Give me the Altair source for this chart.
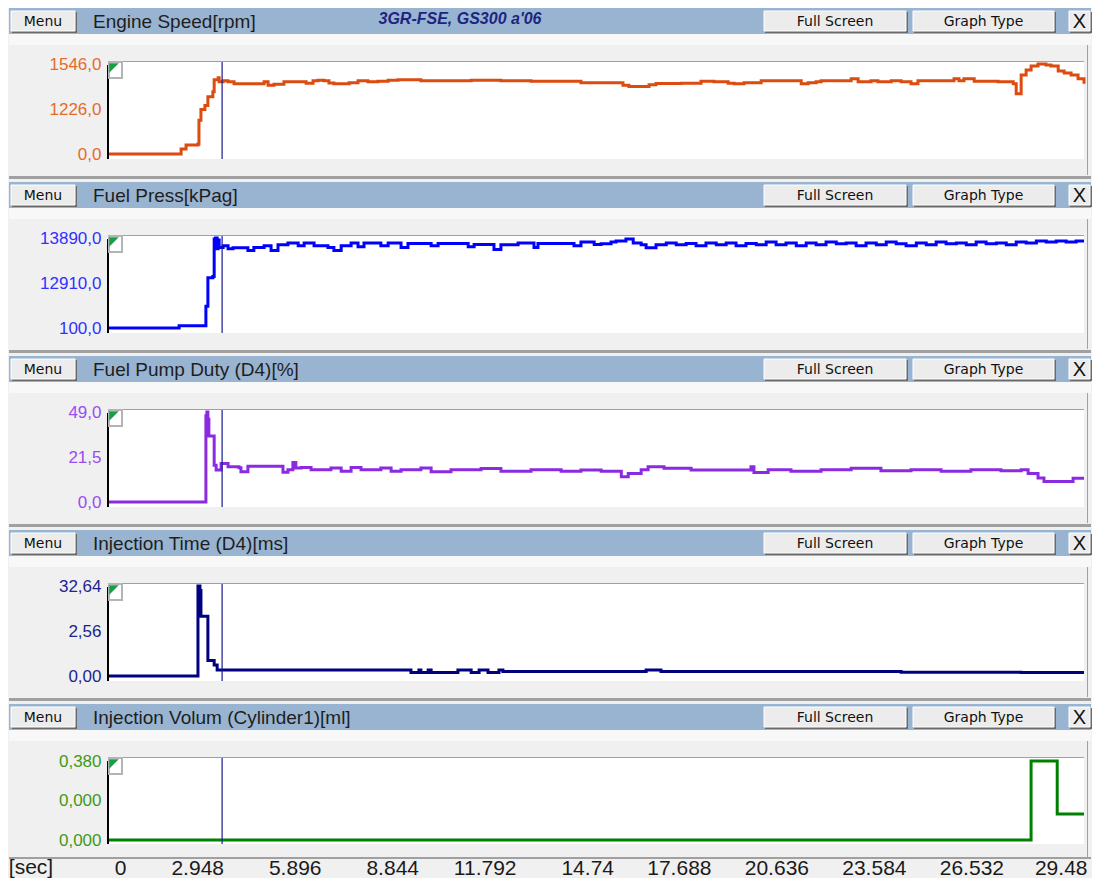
import pandas as pd
import altair as alt

# Time axis of the recording [sec]
x_ticks = [0, 2.948, 5.896, 8.844, 11.792, 14.74, 17.688, 20.636, 23.584, 26.532, 29.48]
t_end = 29.48
cursor_t = 3.42

# Engine Speed [rpm]
rpm_t = [0, 2.18, 2.33, 2.69, 2.72, 2.78, 2.90, 2.99, 3.14, 3.18, 3.30, 3.33, 3.45, 3.60, 3.78,
         4.20, 4.69, 4.81, 4.99, 5.29, 5.81, 5.96, 6.17, 6.32, 6.50, 6.65, 6.80, 7.26, 7.53, 7.83,
         8.13, 8.44, 8.74, 9.43, 10.95, 11.85, 12.76, 14.27, 14.88, 15.54, 15.72, 16.33, 16.54, 17.30, 17.90,
         18.29, 18.72, 18.90, 19.20, 19.72, 20.93, 21.14, 21.38, 21.53, 22.44, 22.65, 23.04, 23.25, 23.65, 23.95,
         24.25, 24.46, 25.55, 25.70, 25.85, 26.16, 26.88, 27.34, 27.43, 27.58, 27.73, 27.88, 28.09, 28.33, 28.48,
         28.70, 28.88, 29.09, 29.30, 29.48]
rpm = [0, 85, 153, 170, 578, 765, 832, 985, 1070, 1274, 1308, 1240, 1257, 1240, 1206,
       1206, 1240, 1180, 1200, 1240, 1240, 1215, 1257, 1265, 1257, 1220, 1206, 1223, 1257, 1240,
       1250, 1265, 1274, 1257, 1265, 1257, 1248, 1223, 1223, 1180, 1160, 1190, 1210, 1215, 1250,
       1240, 1215, 1206, 1223, 1260, 1206, 1223, 1240, 1260, 1291, 1240, 1257, 1240, 1257, 1240,
       1206, 1260, 1291, 1260, 1291, 1250, 1240, 1206, 1036, 1359, 1444, 1512, 1546, 1530, 1512,
       1427, 1393, 1359, 1291, 1206]
rpm_labels = ["0,0", "1226,0", "1546,0"]

# Fuel Press [kPag]
press_t = [0, 2.12, 2.93, 2.99, 3.14, 3.18, 3.22, 3.27, 3.30, 3.33, 3.45, 3.60, 3.75, 4.20, 4.38,
           4.69, 4.90, 5.11, 5.41, 5.72, 5.90, 6.20, 6.62, 6.80, 7.02, 7.32, 7.53, 7.71, 8.22, 8.44,
           8.83, 9.04, 9.74, 9.95, 10.86, 11.04, 11.64, 11.85, 12.37, 12.85, 12.97, 14.06, 14.27, 14.67,
           14.88, 15.18, 15.33, 15.63, 15.85, 16.09, 16.24, 16.54, 16.85, 17.15, 17.45, 17.75, 18.05, 18.36,
           18.66, 18.96, 19.26, 19.57, 19.87, 20.17, 20.47, 20.78, 21.08, 21.38, 21.68, 21.99, 22.29, 22.59,
           22.89, 23.20, 23.50, 23.80, 24.10, 24.41, 24.71, 25.01, 25.31, 25.62, 25.92, 26.22, 26.52, 26.83,
           27.13, 27.43, 27.73, 28.04, 28.34, 28.64, 28.94, 29.24, 29.48]
press = [100, 450, 3440, 7800, 8000, 13740, 13890, 12240, 13590, 12440, 12690, 12240, 12390, 11990, 12440,
         12690, 11990, 12840, 13140, 12690, 13140, 12690, 12440, 11990, 12690, 13140, 12540, 13140, 12690, 13140,
         12440, 13040, 12690, 13040, 12540, 12890, 12140, 12840, 13140, 12440, 13040, 12690, 13290, 12890,
         12990, 13290, 13440, 13740, 13140, 12840, 12390, 12840, 13140, 12840, 13040, 12690, 13140, 12840,
         13140, 12690, 13040, 12840, 13290, 12840, 13140, 12690, 13140, 12840, 13290, 12990, 13140, 12690,
         13140, 12840, 13290, 12990, 12690, 13140, 12840, 13290, 12990, 13140, 12840, 13290, 12990, 13140,
         12840, 13290, 13140, 13440, 13290, 13440, 13290, 13440, 13440]
press_labels = ["100,0", "12910,0", "13890,0"]

# Fuel Pump Duty (D4) [%]
duty_t = [0, 2.93, 2.96, 2.99, 3.02, 3.18, 3.24, 3.39, 3.60, 3.93, 3.99, 4.20, 5.26, 5.41, 5.56,
          5.65, 5.81, 6.11, 6.71, 7.02, 7.32, 7.62, 8.22, 8.53, 8.83, 9.43, 9.74, 10.34, 11.25, 11.85,
          12.76, 13.67, 14.27, 14.88, 15.49, 15.70, 16.09, 16.30, 16.78, 17.60, 18.51, 19.41, 19.50, 19.93, 20.62,
          21.53, 22.44, 23.34, 24.25, 25.16, 26.06, 26.97, 27.58, 27.79, 28.09, 28.27, 29.15, 29.48]
duty = [0, 47, 49, 45, 36, 20, 17.4, 21, 19.2, 18.6, 16.5, 19.5, 16.2, 17.5, 21.5,
        18.5, 18.8, 17.6, 18.5, 16.8, 18.8, 17.6, 18.5, 16.8, 17.6, 18.5, 16.5, 17.6, 18.2, 16.8,
        17.6, 16.8, 17.4, 16.8, 13.8, 15.5, 17.6, 19.2, 18.4, 17.4, 17.4, 19.2, 16, 17.6, 16.8,
        17.6, 18.4, 17.0, 17.6, 16.8, 17.6, 17.0, 17.6, 15.5, 13.0, 11.2, 12.9, 12.9]
duty_labels = ["0,0", "21,5", "49,0"]

# Injection Time (D4) [ms]
inj_t = [0, 2.69, 2.75, 2.78, 2.99, 3.18, 3.27, 9.13, 9.37, 9.43, 9.65, 9.74, 10.55, 10.95, 11.19,
         11.46, 11.79, 11.91, 16.24, 16.69, 23.95, 27.58, 29.48]
inj = [0, 32.6, 31, 21.7, 5.6, 4.0, 2.2, 1.3, 2.2, 1.3, 2.2, 1.3, 2.2, 1.3, 2.2,
       1.3, 2.2, 1.6, 2.2, 1.6, 1.4, 1.3, 1.3]
inj_labels = ["0,00", "2,56", "32,64"]

# Injection Volum (Cylinder1) [ml]
vol_t = [0, 27.88, 28.67, 29.48]
vol = [0, 0.38, 0.125, 0.125]
vol_labels = ["0,000", "0,000", "0,380"]

# Screen geometry in pixels (origin = top left corner of the plot area)
W = 975
P = 174
EDGE_L, EDGE_R = -100, 982
UI_FONT = "DejaVu Sans"
TITLE_FONT = "Liberation Sans"
NUM_FONT = "Liberation Sans Narrow, Liberation Sans, sans-serif"

one = pd.DataFrame({"k": [0]})


def box(x1, x2, y1, y2, fill, stroke=None, sw=1):
    style = {"fill": fill}
    if stroke:
        style.update(stroke=stroke, strokeWidth=sw)
    return (alt.Chart(one)
            .mark_rect(**style)
            .encode(x=alt.value(x1), x2=alt.value(x2), y=alt.value(y1), y2=alt.value(y2)))


def label(text, x, y, size, font=UI_FONT, color="#111111", align="center", **style):
    return (alt.Chart(one)
            .mark_text(text=text, align=align, baseline="middle", font=font,
                       fontSize=size, color=color, **style)
            .encode(x=alt.value(x), y=alt.value(y)))


def button(text, x1, x2, size=14, font=UI_FONT):
    # windows-classic button: dark shadow, light face, caption
    return [box(x1 + 1, x2 + 2, 4, 25, "#6a6a6a"),
            box(x1, x2, 3, 23, "#ececec", "#ffffff"),
            label(text, (x1 + x2) / 2, 13.5, size, font=font)]


def panel(title, t, v, vmin, vmax, labels, line_color, label_color, note=None, last=False):
    h = 153 if last else P
    y_hi, y_lo = (57, 136) if last else (56, 146)
    white_bottom = 140 if last else 151

    # y domain stretched so vmin/vmax land on the pixel rows of the screen
    span = (vmax - vmin) * h / (y_lo - y_hi)
    d0 = vmin - span * (h - y_lo) / h
    mid = (vmin + vmax) / 2
    q1, q3 = (vmin + mid) / 2, (mid + vmax) / 2
    expr = f"datum.value < {q1} ? '{labels[0]}' : datum.value < {q3} ? '{labels[1]}' : '{labels[2]}'"

    y_axis = alt.Axis(values=[vmin, mid, vmax], labelExpr=expr, domain=False, ticks=False, tickSize=0,
                      grid=False, title=None, labelFont=NUM_FONT, labelFontSize=17,
                      labelColor=label_color, labelPadding=8, labelBaseline="middle")
    if last:
        x_axis = alt.Axis(values=x_ticks, labelExpr="'' + datum.value", domain=False, ticks=False,
                          tickSize=0, grid=False, title=None, labelFont=NUM_FONT, labelFontSize=21,
                          labelColor="#1a1a1a", labelAlign="right", labelBaseline="middle",
                          labelPadding=11, labelFlush=False, labelOverlap=False,
                          labelOffset=alt.condition("datum.value > 29", alt.value(3), alt.value(17)))
    else:
        x_axis = None

    df = pd.DataFrame({"t": t, "v": v})
    line = (alt.Chart(df)
            .mark_line(interpolate="step-after", color=line_color, strokeWidth=3)
            .encode(x=alt.X("t:Q", scale=alt.Scale(domain=[0, t_end], nice=False, zero=False), axis=x_axis),
                    y=alt.Y("v:Q", scale=alt.Scale(domain=[d0, d0 + span], nice=False, zero=False), axis=y_axis)))

    cursor = (alt.Chart(pd.DataFrame({"t": [cursor_t]}))
              .mark_rule(color="#1b1b8f", strokeWidth=1.2)
              .encode(x="t:Q", y=alt.value(54), y2=alt.value(white_bottom)))

    layers = [
        box(EDGE_L, EDGE_R, 0, 26, "#99b4d1"),
        box(EDGE_L, EDGE_R, 26, 37, "#f8f8f8"),
        box(W + 3, W + 4, 37, h if last else 167, "#a0a0a0"),
        box(0, W, 53, white_bottom, "#ffffff"),
        box(0, W, 53, 54, "#a0a0a0"),
        box(EDGE_L, EDGE_R, h, h + 2, "#a0a0a0") if last else box(EDGE_L, EDGE_R, 168, 171, "#a0a0a0"),
    ]
    layers += button("Menu", -98, -34)
    layers += button("Full Screen", 655, 797)
    layers += button("Graph Type", 804, 945)
    layers += button("X", 960, 981, size=20, font=TITLE_FONT)
    layers.append(label(title, -16, 14, 19, font=TITLE_FONT, color="#1e1e1e", align="left"))
    if note:
        layers.append(label(note, 351, 11, 16, font=TITLE_FONT, color="#1c2580",
                            fontStyle="italic", fontWeight="bold"))
    if last:
        layers.append(label("[sec]", -78, h + 11, 21, font=NUM_FONT, color="#1a1a1a"))

    layers += [
        line,
        cursor,
        alt.Chart(one).mark_rule(color="#000000", strokeWidth=2)
        .encode(x=alt.value(-1), y=alt.value(57), y2=alt.value(white_bottom)),
        box(0, 13, 54, 70, "#ffffff", "#b4b4b4", 2),
        alt.Chart(one).mark_point(shape="M-1,-1L1,-1L-1,1Z", filled=True, color="#16a043",
                                  size=90, opacity=1)
        .encode(x=alt.value(5), y=alt.value(60)),
    ]
    return alt.layer(*layers).properties(width=W, height=h)


panels = [
    panel("Engine Speed[rpm]", rpm_t, rpm, 0, 1546, rpm_labels, "#dc4b0f", "#e56b2b",
          note="3GR-FSE, GS300 a'06"),
    panel("Fuel Press[kPag]", press_t, press, 100, 13890, press_labels, "#0000ff", "#3030ff"),
    panel("Fuel Pump Duty (D4)[%]", duty_t, duty, 0, 49, duty_labels, "#8a2be2", "#9b4cf0"),
    panel("Injection Time (D4)[ms]", inj_t, inj, 0, 32.64, inj_labels, "#000080", "#1b2590"),
    panel("Injection Volum (Cylinder1)[ml]", vol_t, vol, 0, 0.38, vol_labels, "#008000", "#3f9a17",
          last=True),
]

chart = (alt.vconcat(*panels, spacing=0)
         .properties(padding=0, background="#f0f0f0")
         .configure_view(strokeWidth=0))

chart.save("out.html", embed_options={"renderer": "svg", "actions": False})
